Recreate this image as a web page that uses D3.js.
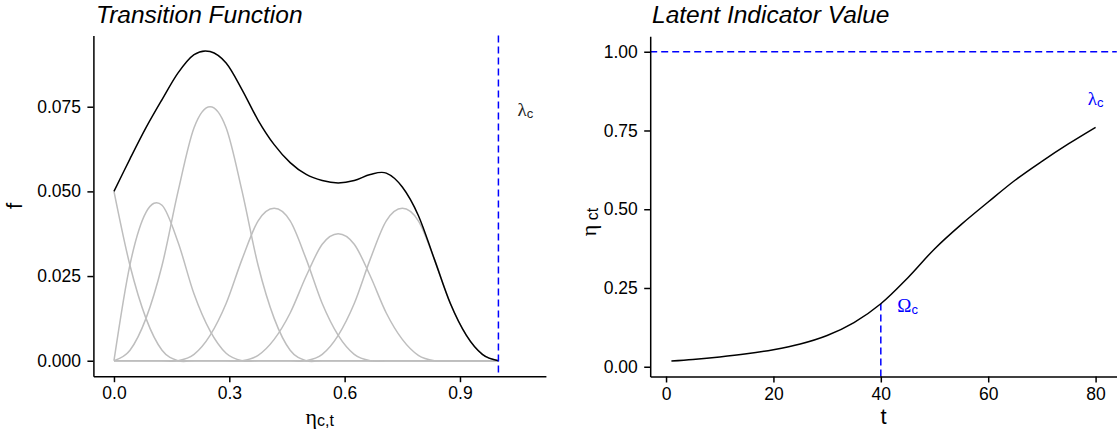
<!DOCTYPE html>
<html><head><meta charset="utf-8">
<script src="https://cdn.jsdelivr.net/npm/d3@7"></script>
<style>
body{margin:0;background:#fff}
svg{display:block;background:#fff}
text{font-family:"Liberation Sans",Arial,sans-serif;fill:#000}
.greek{font-family:"Liberation Serif","Times New Roman",serif}
</style>
</head><body>
<svg id="c" width="1117" height="432"></svg>
<script>
// ---------- Left panel data: transition function ----------
const etaGrid = [0, 0.0417, 0.0833, 0.125, 0.1667, 0.2083, 0.25, 0.2917, 0.3333, 0.375, 0.4167, 0.4583, 0.5,
  0.5417, 0.5833, 0.625, 0.6667, 0.7083, 0.75, 0.7917, 0.8333, 0.875, 0.9167, 0.9583, 1];
const comp0 = [0.05, 0.0281, 0.0125, 0.0031, 0, 0, 0, 0, 0, 0, 0, 0, 0, 0, 0, 0, 0, 0, 0, 0, 0, 0, 0, 0, 0];
const comp1 = [0, 0.0284, 0.0438, 0.0459, 0.035, 0.0197, 0.0088, 0.0022, 0, 0, 0, 0, 0, 0, 0, 0, 0, 0, 0, 0, 0, 0, 0, 0, 0];
const comp2 = [0, 0.0031, 0.0125, 0.0281, 0.05, 0.0688, 0.075, 0.0688, 0.05, 0.0281, 0.0125, 0.0031, 0, 0, 0, 0, 0, 0, 0, 0, 0, 0, 0, 0, 0];
const comp3 = [0, 0, 0, 0, 0, 0.0019, 0.0075, 0.0169, 0.03, 0.0413, 0.045, 0.0413, 0.03, 0.0169, 0.0075, 0.0019, 0, 0, 0, 0, 0, 0, 0, 0, 0];
const comp4 = [0, 0, 0, 0, 0, 0, 0, 0, 0, 0.0016, 0.0063, 0.0141, 0.025, 0.0344, 0.0375, 0.0344, 0.025, 0.0141, 0.0063, 0.0016, 0, 0, 0, 0, 0];
const comp5 = [0, 0, 0, 0, 0, 0, 0, 0, 0, 0, 0, 0, 0, 0.0019, 0.0075, 0.0169, 0.03, 0.0413, 0.045, 0.0413, 0.03, 0.0169, 0.0075, 0.0019, 0];
const totalF = [0.05, 0.0596, 0.0688, 0.0771, 0.085, 0.0904, 0.0913, 0.0879, 0.08, 0.071, 0.0638, 0.0585, 0.055,
  0.0532, 0.0525, 0.0532, 0.055, 0.0554, 0.0513, 0.0429, 0.03, 0.0169, 0.0075, 0.0019, 0];
const leftXTicks = [0, 0.3, 0.6, 0.9];
const leftYTicks = [0, 0.025, 0.05, 0.075];
const lambdaEta = 1.0;
const lambdaLabelLeft = [1.07, 0.0745];

// ---------- Right panel data: latent indicator value ----------
const tValues = [1, 5, 10, 15, 20, 25, 30, 35, 40, 45, 50, 55, 60, 65, 70, 75, 80];
const etaValues = [0.018, 0.023, 0.031, 0.041, 0.054, 0.072, 0.099, 0.140, 0.2, 0.282, 0.374, 0.452, 0.523,
  0.592, 0.652, 0.708, 0.76];
const rightXTicks = [0, 20, 40, 60, 80];
const rightYTicks = [0, 0.25, 0.5, 0.75, 1];
const ceilingEta = 1.0;
const omegaT = 40, omegaEta = 0.2;
const omegaLabel = [45, 0.2];
const lambdaLabelRight = [80, 0.855];

const svg = d3.select('#c');
const DASH = '7,4';

function styleAxis(g) {
  g.select('.domain').attr('stroke', '#000').attr('stroke-width', 1.5);
  g.selectAll('.tick line').attr('stroke', '#000').attr('stroke-width', 1.5);
  g.selectAll('.tick text').attr('fill', '#000').style('font-size', '17.5px')
    .style('font-family', '"Liberation Sans",Arial,sans-serif');
}

function greekLabel(parent, x, y, main, sub, opts) {
  const t = parent.append('text').attr('x', x).attr('y', y)
    .attr('text-anchor', opts.anchor || 'middle')
    .style('fill', opts.color || '#000');
  if (opts.rotate) t.attr('transform', `rotate(-90,${x},${y})`);
  t.append('tspan').attr('class', 'greek').style('font-size', opts.size + 'px').text(main);
  t.append('tspan').style('font-size', opts.subSize + 'px').attr('dy', opts.subDy).text(sub);
  return t;
}

// ===== Left panel =====
const xL = d3.scaleLinear().domain([-0.0535, 1.1235]).range([93.4, 545.9]);
const yL = d3.scaleLinear().domain([-0.00457, 0.0960]).range([376.2, 35.6]);
const gL = svg.append('g');

const lineL = d3.line().x((d, i) => xL(etaGrid[i])).y(d => yL(d)).curve(d3.curveCatmullRom.alpha(0));
[comp0, comp1, comp2, comp3, comp4, comp5].forEach(c => {
  gL.append('path').datum(c).attr('d', lineL).attr('fill', 'none')
    .attr('stroke', '#bebebe').attr('stroke-width', 1.5);
});
gL.append('path').datum(totalF).attr('d', lineL).attr('fill', 'none')
  .attr('stroke', '#000').attr('stroke-width', 1.5);

gL.append('line').attr('x1', xL(lambdaEta)).attr('x2', xL(lambdaEta))
  .attr('y1', yL.range()[1]).attr('y2', yL.range()[0])
  .attr('stroke', '#0000ff').attr('stroke-width', 1.5).attr('stroke-dasharray', DASH);

greekLabel(gL, xL(lambdaLabelLeft[0]), yL(lambdaLabelLeft[1]) + 8, 'λ', 'c',
  {size: 19, subSize: 13, subDy: 2, color: '#222'});

gL.append('g').attr('transform', 'translate(93.4,0)')
  .call(d3.axisLeft(yL).tickValues(leftYTicks).tickFormat(d3.format('.3f')).tickSize(6).tickSizeOuter(0).tickPadding(6.4))
  .call(styleAxis);
gL.append('g').attr('transform', 'translate(0,376.2)')
  .call(d3.axisBottom(xL).tickValues(leftXTicks).tickFormat(d3.format('.1f')).tickSize(6).tickSizeOuter(0).tickPadding(4.8))
  .call(styleAxis);

gL.append('text').attr('x', 96).attr('y', 22.5).style('font-size', '24.5px').style('font-style', 'italic')
  .text('Transition Function');
gL.append('text').attr('transform', 'translate(21.5,206) rotate(-90)').attr('text-anchor', 'middle')
  .style('font-size', '22px').text('f');
greekLabel(gL, (xL.range()[0] + xL.range()[1]) / 2, 424, 'η', 'c,t', {size: 22, subSize: 16, subDy: 2});

// ===== Right panel =====
const xR = d3.scaleLinear().domain([-2.95, 83.95]).range([650.2, 1116.8]);
const yR = d3.scaleLinear().domain([-0.031, 1.049]).range([376.5, 36.3]);
const gR = svg.append('g');

gR.append('line').attr('x1', xR.range()[0]).attr('x2', xR.range()[1])
  .attr('y1', yR(ceilingEta)).attr('y2', yR(ceilingEta))
  .attr('stroke', '#0000ff').attr('stroke-width', 1.5).attr('stroke-dasharray', DASH);
gR.append('line').attr('x1', xR(omegaT)).attr('x2', xR(omegaT))
  .attr('y1', yR.range()[0]).attr('y2', yR(omegaEta))
  .attr('stroke', '#0000ff').attr('stroke-width', 1.5).attr('stroke-dasharray', DASH);

const lineR = d3.line().x((d, i) => xR(tValues[i])).y(d => yR(d)).curve(d3.curveCatmullRom.alpha(0.5));
gR.append('path').datum(etaValues).attr('d', lineR).attr('fill', 'none')
  .attr('stroke', '#000').attr('stroke-width', 1.5);

greekLabel(gR, xR(omegaLabel[0]), yR(omegaLabel[1]) + 8, 'Ω', 'c',
  {size: 19, subSize: 13, subDy: 2, color: '#0000ff'});
greekLabel(gR, xR(lambdaLabelRight[0]), yR(lambdaLabelRight[1]) + 8, 'λ', 'c',
  {size: 19, subSize: 13, subDy: 2, color: '#0000ff'});

gR.append('g').attr('transform', 'translate(650.2,0)')
  .call(d3.axisLeft(yR).tickValues(rightYTicks).tickFormat(d3.format('.2f')).tickSize(6).tickSizeOuter(0).tickPadding(6.4))
  .call(styleAxis);
gR.append('g').attr('transform', 'translate(0,376.5)')
  .call(d3.axisBottom(xR).tickValues(rightXTicks).tickFormat(d3.format('d')).tickSize(6).tickSizeOuter(0).tickPadding(4.8))
  .call(styleAxis);

gR.append('text').attr('x', 652).attr('y', 22.5).style('font-size', '24.5px').style('font-style', 'italic')
  .text('Latent Indicator Value');
greekLabel(gR, 596, 222, 'η', ' ct', {size: 22, subSize: 16, subDy: 2, rotate: true});
gR.append('text').attr('x', (xR.range()[0] + xR.range()[1]) / 2).attr('y', 424).attr('text-anchor', 'middle')
  .style('font-size', '22px').text('t');
</script>
</body></html>
